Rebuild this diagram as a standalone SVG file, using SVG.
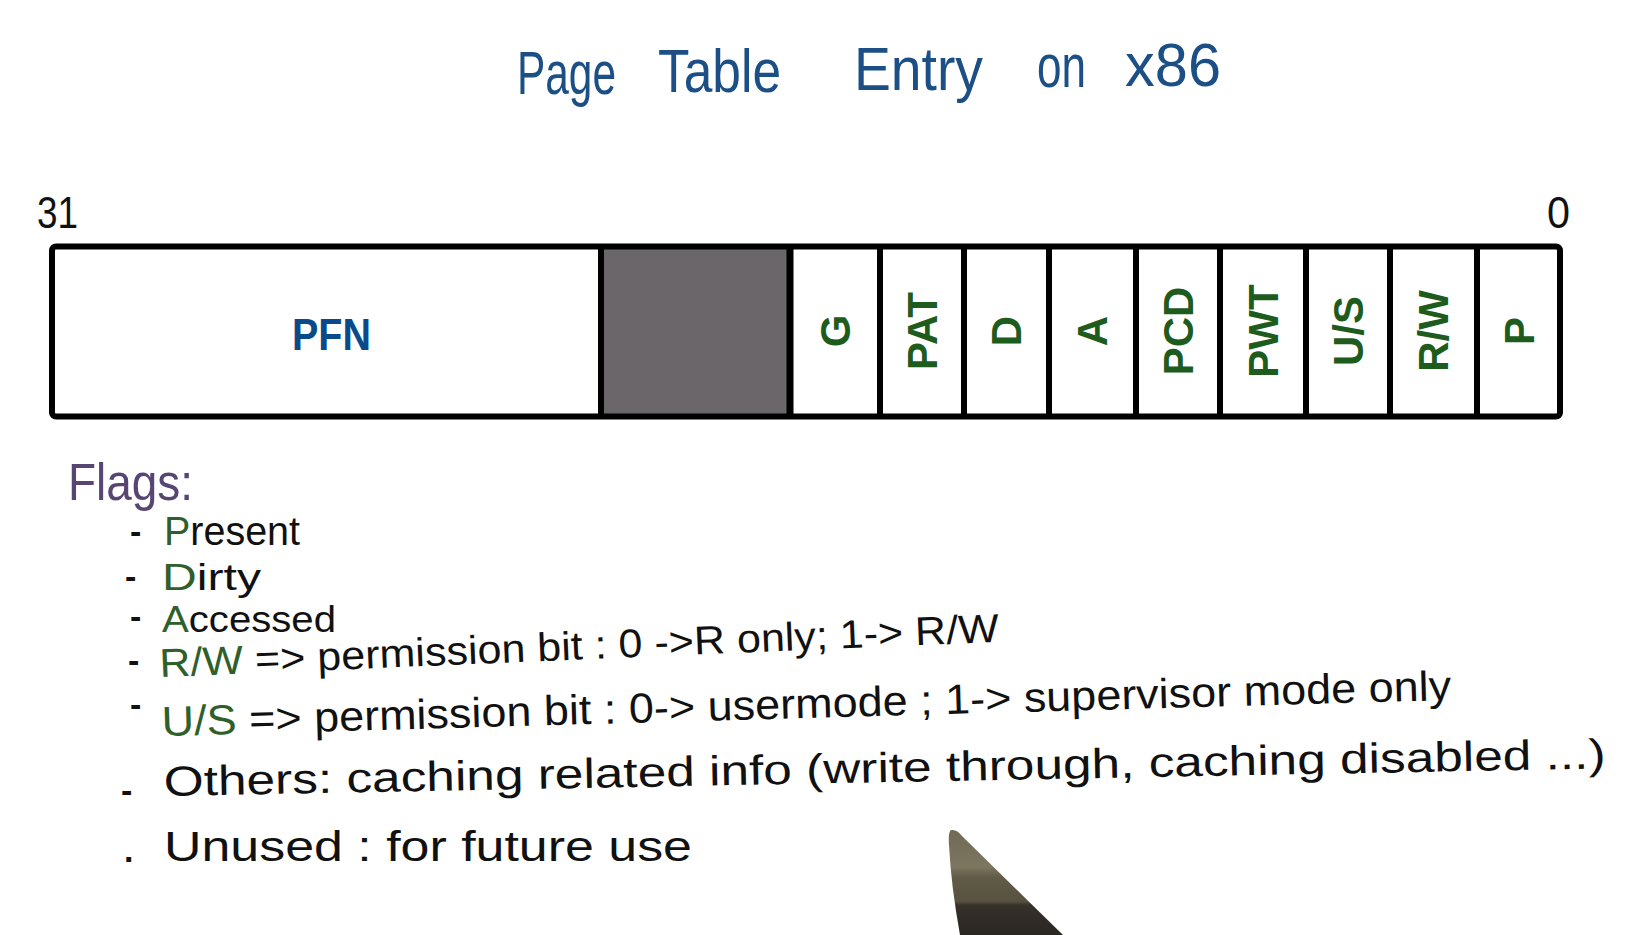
<svg xmlns="http://www.w3.org/2000/svg" width="1637" height="935" viewBox="0 0 1637 935">
<defs>
<style>
.hand{font-family:"Liberation Sans",Arial,sans-serif;font-size:42px;fill:#111;}
.dash{font-family:"Liberation Sans",Arial,sans-serif;font-size:34px;font-weight:bold;fill:#111;}
.title{font-family:"Liberation Sans",Arial,sans-serif;font-size:62px;fill:#1b4f86;}
.grn{fill:#2f5f2a;}
.bitlbl{font-family:"Liberation Sans",Arial,sans-serif;font-size:42px;font-weight:bold;fill:#1e5c1e;text-anchor:middle;}
.num{font-family:"Liberation Sans",Arial,sans-serif;font-size:44px;fill:#111;}
.div{stroke:#000;stroke-width:6;}
</style>
<linearGradient id="pen" x1="0" y1="0" x2="0" y2="1">
<stop offset="0" stop-color="#6f6a55"/>
<stop offset="0.35" stop-color="#7d7660"/>
<stop offset="0.45" stop-color="#615b48"/>
<stop offset="0.68" stop-color="#57513f"/>
<stop offset="0.72" stop-color="#35302a"/>
<stop offset="1" stop-color="#2a2622"/>
</linearGradient>
</defs>
<rect width="1637" height="935" fill="#fff"/>

<g id="title">
<text class="title" x="517" y="94" textLength="99" lengthAdjust="spacingAndGlyphs">Page</text>
<text class="title" x="658" y="92" textLength="123" lengthAdjust="spacingAndGlyphs">Table</text>
<text class="title" x="854" y="90" textLength="129" lengthAdjust="spacingAndGlyphs">Entry</text>
<text class="title" x="1037" y="87" textLength="49" lengthAdjust="spacingAndGlyphs">on</text>
<text class="title" x="1125" y="86" textLength="96" lengthAdjust="spacingAndGlyphs">x86</text>
</g>

<g id="bit-numbers">
<text class="num" x="37" y="228" textLength="41" lengthAdjust="spacingAndGlyphs">31</text>
<text class="num" x="1547" y="228" textLength="23" lengthAdjust="spacingAndGlyphs">0</text>
</g>

<g id="pte">
<rect id="unused-bits" x="601" y="247" width="189" height="170" fill="#6b6669"/>
<rect x="52" y="246.5" width="1508" height="170" fill="none" stroke="#000" stroke-width="6" rx="4"/>
<line class="div" x1="601" y1="246" x2="601" y2="417"/>
<line class="div" x1="790" y1="246" x2="790" y2="417" style="stroke-width:7"/>
<line class="div" x1="880" y1="246" x2="880" y2="417"/>
<line class="div" x1="964" y1="246" x2="964" y2="417"/>
<line class="div" x1="1049" y1="246" x2="1049" y2="417"/>
<line class="div" x1="1136" y1="246" x2="1136" y2="417"/>
<line class="div" x1="1220" y1="246" x2="1220" y2="417"/>
<line class="div" x1="1306" y1="246" x2="1306" y2="417"/>
<line class="div" x1="1390" y1="246" x2="1390" y2="417"/>
<line class="div" x1="1477" y1="246" x2="1477" y2="417"/>
</g>

<g id="field-pfn"><text x="292" y="350" font-family="Liberation Sans, Arial, sans-serif" font-size="44" font-weight="bold" fill="#0b4a8a" textLength="79" lengthAdjust="spacingAndGlyphs">PFN</text></g>
<g id="field-g"><text class="bitlbl" transform="translate(835,331) rotate(-90)" y="15">G</text></g>
<g id="field-pat"><text class="bitlbl" transform="translate(922,331) rotate(-90)" y="15">PAT</text></g>
<g id="field-d"><text class="bitlbl" transform="translate(1006,331) rotate(-90)" y="15">D</text></g>
<g id="field-a"><text class="bitlbl" transform="translate(1092,331) rotate(-90)" y="15">A</text></g>
<g id="field-pcd"><text class="bitlbl" transform="translate(1178,331) rotate(-90)" y="15">PCD</text></g>
<g id="field-pwt"><text class="bitlbl" transform="translate(1263,331) rotate(-90)" y="15">PWT</text></g>
<g id="field-us"><text class="bitlbl" transform="translate(1348,331) rotate(-90)" y="15">U/S</text></g>
<g id="field-rw"><text class="bitlbl" transform="translate(1433,331) rotate(-90)" y="15">R/W</text></g>
<g id="field-p"><text class="bitlbl" transform="translate(1519,331) rotate(-90)" y="15">P</text></g>

<g id="notes">
<text class="hand" x="68" y="500" style="fill:#574673;font-size:52px" textLength="125" lengthAdjust="spacingAndGlyphs">Flags:</text>

<text class="dash" x="130" y="543">-</text>
<text class="hand" x="164" y="545" style="font-size:40px" textLength="136" lengthAdjust="spacingAndGlyphs"><tspan class="grn">P</tspan>resent</text>

<text class="dash" x="125" y="588">-</text>
<text class="hand" x="162" y="590" style="font-size:37px" textLength="99" lengthAdjust="spacingAndGlyphs"><tspan class="grn">D</tspan>irty</text>

<text class="dash" x="130" y="628">-</text>
<text class="hand" x="162" y="632" style="font-size:37px" textLength="174" lengthAdjust="spacingAndGlyphs"><tspan class="grn">A</tspan>ccessed</text>

<text class="dash" x="128" y="672">-</text>
<text class="hand" transform="rotate(-2.4 160 677)" x="160" y="677" style="font-size:40px" textLength="840" lengthAdjust="spacingAndGlyphs"><tspan class="grn">R/W</tspan> =&gt; permission bit : 0 -&gt;R only; 1-&gt; R/W</text>

<text class="dash" x="130" y="716">-</text>
<text class="hand" transform="rotate(-1.6 162 736)" x="162" y="736" textLength="1290" lengthAdjust="spacingAndGlyphs"><tspan class="grn">U/S</tspan> =&gt; permission bit : 0-&gt; usermode ; 1-&gt; supervisor mode only</text>

<text class="dash" x="121" y="802">-</text>
<text class="hand" transform="rotate(-1.1 164 796)" x="164" y="796" textLength="1442" lengthAdjust="spacingAndGlyphs">Others: caching related info (write through, caching disabled ...)</text>

<text class="dash" x="124" y="862">.</text>
<text class="hand" x="164" y="861" textLength="528" lengthAdjust="spacingAndGlyphs">Unused : for future use</text>
</g>

<g id="pen-tip">
<path d="M951,830 Q957,829 962,836 L1063,935 L960,935 Q951,885 949,845 Q948,832 951,830 Z" fill="url(#pen)"/>
</g>
</svg>
